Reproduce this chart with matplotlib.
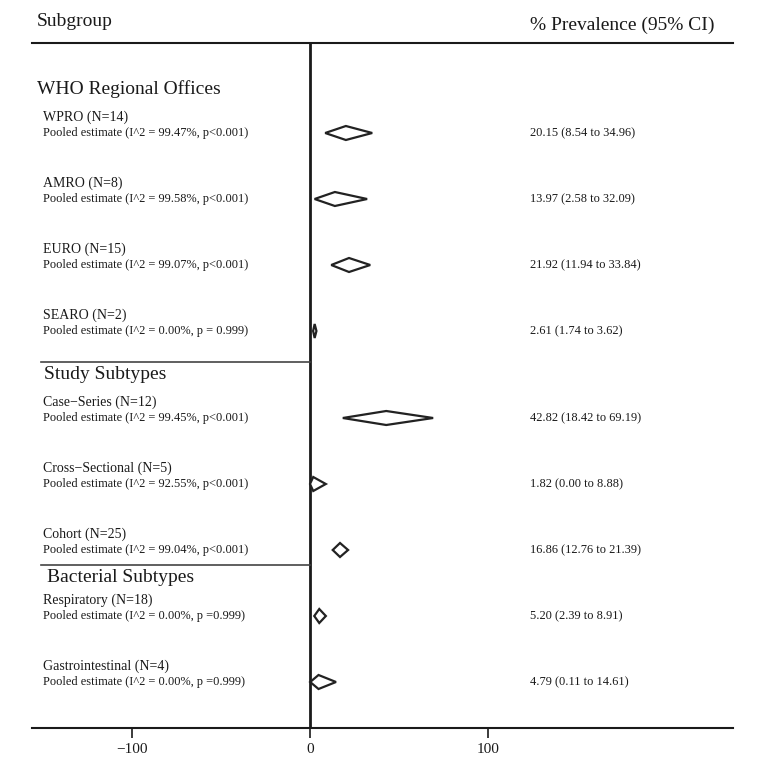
import numpy as np
import matplotlib.pyplot as plt

plt.rcParams['font.family'] = ['Liberation Serif', 'DejaVu Serif']

groups = ["WHO Regional Offices", "Study Subtypes", "Bacterial Subtypes"]
subgroups = ["WPRO (N=14)", "AMRO (N=8)", "EURO (N=15)", "SEARO (N=2)",
             "Case\u2212Series (N=12)", "Cross\u2212Sectional (N=5)", "Cohort (N=25)",
             "Respiratory (N=18)", "Gastrointestinal (N=4)"]
group_of = [0, 0, 0, 0, 1, 1, 1, 2, 2]
i2 = ["99.47%", "99.58%", "99.07%", "0.00%", "99.45%", "92.55%", "99.04%", "0.00%", "0.00%"]
pval = ["p<0.001", "p<0.001", "p<0.001", "p = 0.999", "p<0.001", "p<0.001", "p<0.001",
        "p =0.999", "p =0.999"]
est = [20.15, 13.97, 21.92, 2.61, 42.82, 1.82, 16.86, 5.20, 4.79]
lo = [8.54, 2.58, 11.94, 1.74, 18.42, 0.00, 12.76, 2.39, 0.11]
hi = [34.96, 32.09, 33.84, 3.62, 69.19, 8.88, 21.39, 8.91, 14.61]
xticks = [-100, 0, 100]

W, H = 761, 779
px = 1.78  # pixels per percent unit
x0 = 310
col = '#1a1a1a'

fig = plt.figure(figsize=(W / 100, H / 100), dpi=100)
ax = fig.add_axes([32 / W, 1 - 728 / H, (733 - 32) / W, (728 - 43) / H])
ax.set_xlim((32 - x0) / px, (733 - x0) / px)
ax.set_ylim(728, 43)   # y runs in pixel-like rows, top to bottom

def dx(p):
    return (p - x0) / px

# row positions
row_y = []
for i in range(len(subgroups)):
    gap = 21 if group_of[i] >= 1 else 0
    row_y.append(133 + 66 * i + gap)
head_off = [44, 43, 38]
head_x = [37, 44, 47]
head_y = [row_y[group_of.index(g)] - head_off[g] for g in range(len(groups))]

for s in ['left', 'right']:
    ax.spines[s].set_visible(False)
ax.spines['bottom'].set_linewidth(1.5)
ax.spines['top'].set_linewidth(1.5)
ax.spines['bottom'].set_color(col)
ax.spines['top'].set_color(col)
ax.set_yticks([])
ax.set_xticks(xticks)
ax.tick_params(axis='x', length=7, width=1.2, color=col, labelsize=11, pad=4, labelcolor=col)

ax.axvline(0, color=col, lw=2)

fig.text(37 / W, 1 - 22 / H, "Subgroup", fontsize=14, va='center', ha='left', color=col)
fig.text(715 / W, 1 - 25 / H, "% Prevalence (95% CI)", fontsize=14, va='center', ha='right', color=col)

for g, name in enumerate(groups):
    ax.text(dx(head_x[g]), head_y[g], name, fontsize=14, va='center', ha='left', color=col)
    if g > 0:
        ax.plot([dx(41), 0], [head_y[g] - 13, head_y[g] - 13], color='#444444', lw=1.2)

for i in range(len(subgroups)):
    y = row_y[i]
    ax.text(dx(43), y - 16, subgroups[i], fontsize=10, va='center', ha='left', color=col)
    ax.text(dx(43), y, "Pooled estimate (I^2 = %s, %s)" % (i2[i], pval[i]),
            fontsize=8.9, va='center', ha='left', color=col)
    ax.text(dx(530), y, "%.2f (%.2f to %.2f)" % (est[i], lo[i], hi[i]),
            fontsize=8.9, va='center', ha='left', color=col)
    xs = [lo[i], est[i], hi[i], est[i], lo[i]]
    ys = [y, y - 7, y, y + 7, y]
    ax.fill(xs, ys, facecolor='white', edgecolor='#222222', lw=1.6, zorder=3)

fig.savefig('out.png', dpi=100)
